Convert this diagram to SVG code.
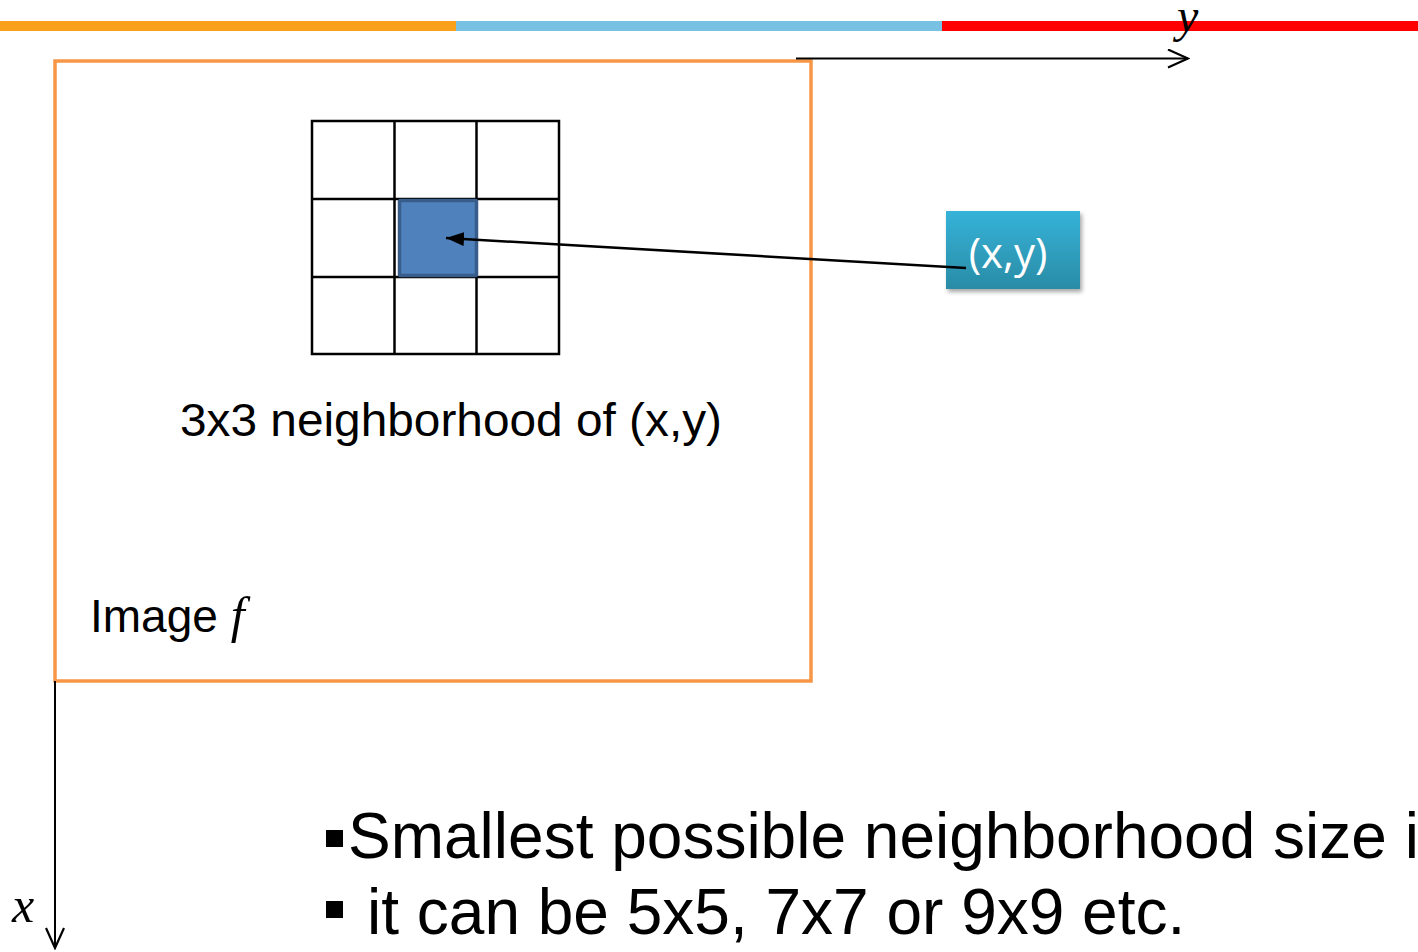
<svg xmlns="http://www.w3.org/2000/svg" width="1418" height="952" viewBox="0 0 1418 952">
<defs>
  <linearGradient id="tealGrad" x1="0" y1="0" x2="0" y2="1">
    <stop offset="0" stop-color="#35B3D8"/>
    <stop offset="1" stop-color="#2A8CA6"/>
  </linearGradient>
  <filter id="shadow" x="-10%" y="-10%" width="130%" height="140%">
    <feDropShadow dx="2" dy="3" stdDeviation="2" flood-color="#000" flood-opacity="0.35"/>
  </filter>
  <marker id="openHead" markerWidth="24" markerHeight="20" refX="22" refY="10" orient="auto" markerUnits="userSpaceOnUse">
    <path d="M2,1 L22,10 L2,19" fill="none" stroke="#000" stroke-width="2.2"/>
  </marker>
  <marker id="solidHead" markerWidth="20" markerHeight="14" refX="18" refY="7" orient="auto" markerUnits="userSpaceOnUse">
    <path d="M0,0 L18,7 L0,14 Z" fill="#000"/>
  </marker>
</defs>
<style>
  .sans { font-family: "Liberation Sans", Arial, sans-serif; fill: #000; }
  .ital { font-family: "Liberation Serif", "Times New Roman", serif; font-style: italic; fill: #000; }
  .cell { fill: none; stroke: #000; stroke-width: 2.5; }
  .axis { stroke: #000; stroke-width: 2; fill: none; }
</style>

<g id="top-bar">
  <rect x="0" y="21" width="456" height="10" fill="#F9A11B"/>
  <rect x="456" y="21" width="486" height="10" fill="#78C1E2"/>
  <rect x="942" y="21" width="476" height="10" fill="#FF0000"/>
</g>

<g id="image-f">
  <rect x="55" y="61" width="756" height="620" fill="none" stroke="#F79646" stroke-width="3.5"/>
  <text class="sans" x="90" y="632" font-size="46">Image <tspan class="ital" font-size="50">f</tspan></text>
</g>

<g id="grid">
  <rect class="cell" x="312" y="121" width="247" height="233"/>
  <line class="cell" x1="394.5" y1="121" x2="394.5" y2="354"/>
  <line class="cell" x1="476.5" y1="121" x2="476.5" y2="354"/>
  <line class="cell" x1="312" y1="199" x2="559" y2="199"/>
  <line class="cell" x1="312" y1="277" x2="559" y2="277"/>
  <rect x="399.5" y="200.5" width="77" height="75" fill="#4F81BD" stroke="#385D8A" stroke-width="3.5" rx="1"/>
  <text class="sans" x="180" y="436" font-size="47" textLength="542" lengthAdjust="spacingAndGlyphs">3x3 neighborhood of (x,y)</text>
</g>

<g id="xy-box">
  <rect x="946" y="211" width="134" height="78" fill="url(#tealGrad)" filter="url(#shadow)"/>
  <text x="1008" y="268" font-size="42" text-anchor="middle" fill="#FFFFFF" font-family="'Open Sans', 'Liberation Sans', sans-serif">(x,y)</text>
</g>

<g id="connectors">
  <line x1="966" y1="268" x2="446" y2="238" stroke="#000" stroke-width="2.5" marker-end="url(#solidHead)"/>
  <line class="axis" x1="796" y1="58.5" x2="1188" y2="58.5" marker-end="url(#openHead)"/>
  <line class="axis" x1="55" y1="681" x2="55" y2="948" marker-end="url(#openHead)"/>
</g>

<g id="axis-labels">
  <text class="ital" x="1177" y="32" font-size="48">y</text>
  <text class="ital" x="12" y="922" font-size="50">x</text>
</g>

<g id="bullets">
  <rect x="326" y="830" width="17" height="17" fill="#000"/>
  <text class="sans" x="348" y="858" font-size="64">Smallest possible neighborhood size i</text>
  <rect x="326" y="901" width="17" height="17" fill="#000"/>
  <text class="sans" x="367" y="934" font-size="64">it can be 5x5, 7x7 or 9x9 etc.</text>
</g>
</svg>
